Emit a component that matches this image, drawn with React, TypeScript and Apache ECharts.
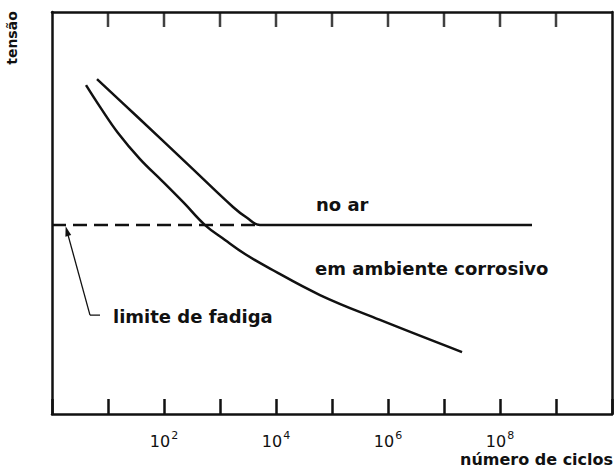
import React, { useEffect, useRef } from "react";
import * as echarts from "echarts";

// x = número de ciclos (log scale), y = tensão (arbitrary units 0..100)
const airCycles = [6.36, 33, 291, 1707, 3035, 5180, 3.73e8];
const airStress = [83.3, 74.0, 61.6, 51.5, 48.8, 47.0, 47.0];

const corrCycles = [4.05, 7.2, 15.1, 37.3, 92.1, 227, 540, 1228, 2793, 6900, 61000, 720000, 2.1e7];
const corrStress = [81.8, 76.4, 69.9, 63.4, 58.0, 52.5, 47.0, 43.3, 39.8, 36.6, 29.6, 23.4, 15.4];

const limitCycles = [1, 5180];
const limitStress = [47.0, 47.0];

const leaderCycles = [7.2, 4.77, 1.85];
const leaderStress = [24.6, 24.6, 45.5];

// decade ticks: exponents 0..10, labels only on these
const decadeMin = 0;
const decadeMax = 10;
const labeledExponents = [2, 4, 6, 8];
const topTickExponents = [1, 2, 3, 4, 5, 6, 7, 8, 9];

const stressMin = 0;
const stressMax = 100;

const xMin = 1;
const xMax = 1e10;

const INK = "#111";
const FONT = "DejaVu Sans, sans-serif";

function pairs(xs: number[], ys: number[]) {
  return xs.map((x, i) => [x, ys[i]]);
}

export default function App() {
  const ref = useRef<HTMLDivElement>(null);

  useEffect(() => {
    if (!ref.current) return;
    const chart = echarts.init(ref.current, undefined, { renderer: "svg" });

    const yAxisCommon = {
      type: "value",
      min: stressMin,
      max: stressMax,
      axisLine: { show: true, onZero: false, lineStyle: { color: INK, width: 2.5 } },
      axisTick: { show: false },
      axisLabel: { show: false },
      splitLine: { show: false },
    };

    const leaderPts = pairs(leaderCycles, leaderStress);
    const X = 2; // index of the log axis used by the curves

    chart.setOption({
      animation: false,
      backgroundColor: "#fff",
      grid: { left: 52, right: 4, top: 12, bottom: 58 },
      xAxis: [
        {
          type: "value",
          min: decadeMin,
          max: decadeMax,
          interval: 1,
          position: "bottom",
          splitLine: { show: false },
          axisLine: { show: true, onZero: false, lineStyle: { color: INK, width: 2.5 } },
          axisTick: { show: true, inside: true, length: 15, lineStyle: { color: INK, width: 2.5 } },
          axisLabel: {
            show: true,
            margin: 16,
            color: INK,
            formatter: (v: any) => {
              const e = Math.round(Number(v));
              return labeledExponents.indexOf(e) >= 0 ? `{b|10}{s|${e}}` : "";
            },
            rich: {
              b: { fontSize: 16, fontFamily: FONT, color: INK, verticalAlign: "bottom" },
              s: { fontSize: 11, fontFamily: FONT, color: INK, verticalAlign: "bottom", padding: [0, 0, 8, 1] },
            },
          },
        },
        {
          type: "value",
          min: decadeMin,
          max: decadeMax,
          interval: 1,
          position: "top",
          splitLine: { show: false },
          axisLine: { show: true, onZero: false, lineStyle: { color: INK, width: 2.5 } },
          axisTick: { show: false },
          axisLabel: { show: false },
        },
        {
          type: "log",
          logBase: 10,
          min: xMin,
          max: xMax,
          position: "top",
          show: false,
        },
      ],
      yAxis: [
        { ...yAxisCommon, position: "left" },
        { ...yAxisCommon, position: "right" },
      ],
      series: [
        {
          // inner tick marks hanging from the top frame, one per decade
          name: "top ticks",
          type: "scatter",
          xAxisIndex: 0,
          yAxisIndex: 0,
          silent: true,
          symbol: "rect",
          symbolSize: [2.5, 15],
          symbolOffset: [0, 7.5],
          itemStyle: { color: INK },
          data: topTickExponents.map((e) => [e, stressMax]),
        },
        {
          name: "no ar",
          type: "line",
          xAxisIndex: X,
          data: pairs(airCycles, airStress),
          smooth: 0.4,
          showSymbol: false,
          lineStyle: { color: INK, width: 2.5 },
        },
        {
          name: "em ambiente corrosivo",
          type: "line",
          xAxisIndex: X,
          data: pairs(corrCycles, corrStress),
          smooth: 0.4,
          showSymbol: false,
          lineStyle: { color: INK, width: 2.5 },
        },
        {
          name: "limite de fadiga",
          type: "line",
          xAxisIndex: X,
          data: pairs(limitCycles, limitStress),
          showSymbol: false,
          lineStyle: { color: INK, width: 2.5, type: [14, 7] },
        },
        {
          name: "leader",
          type: "line",
          xAxisIndex: X,
          data: leaderPts.slice(0, 2),
          showSymbol: false,
          lineStyle: { color: INK, width: 1.3 },
          markLine: {
            silent: true,
            symbol: ["none", "triangle"],
            symbolSize: [6, 10],
            label: { show: false },
            lineStyle: { color: INK, width: 1.3, type: "solid" },
            data: [[{ coord: leaderPts[1] }, { coord: leaderPts[2] }]],
          },
        },
      ],
      graphic: [
        {
          type: "text",
          x: 316,
          y: 204,
          style: { text: "no ar", font: `bold 18px ${FONT}`, fill: INK, align: "left", verticalAlign: "middle" },
        },
        {
          type: "text",
          x: 315,
          y: 268,
          style: { text: "em ambiente corrosivo", font: `bold 18px ${FONT}`, fill: INK, align: "left", verticalAlign: "middle" },
        },
        {
          type: "text",
          x: 113,
          y: 316,
          style: { text: "limite de fadiga", font: `bold 18px ${FONT}`, fill: INK, align: "left", verticalAlign: "middle" },
        },
        {
          type: "text",
          x: 460,
          y: 459,
          style: { text: "número de ciclos", font: `bold 16px ${FONT}`, fill: INK, align: "left", verticalAlign: "middle" },
        },
        {
          type: "text",
          x: 12,
          y: 38,
          rotation: Math.PI / 2,
          style: { text: "tensão", font: `bold 14px ${FONT}`, fill: INK, align: "center", verticalAlign: "middle" },
        },
      ],
    });

    return () => chart.dispose();
  }, []);

  return <div ref={ref} style={{ width: 616, height: 472, position: "absolute", left: 0, top: 0 }} />;
}
